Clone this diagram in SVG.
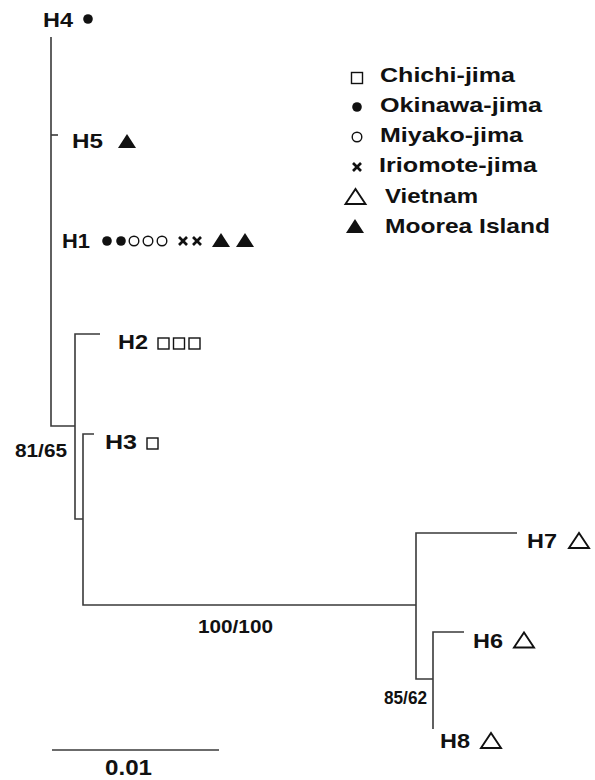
<svg xmlns="http://www.w3.org/2000/svg" xmlns:xlink="http://www.w3.org/1999/xlink" width="595" height="780" viewBox="0 0 595 780">
<style>
.t{font-family:"Liberation Sans",Arial,sans-serif;font-weight:bold;fill:#111;}
.lab{font-size:20px;}
.leg{font-size:21px;}
.num{font-size:18px;}
.br{stroke:#3a3a3a;stroke-width:1.6;fill:none;}
.fill{fill:#111;}
.open{fill:none;stroke:#111;stroke-width:1.4;}
.ox{stroke:#111;stroke-width:2.6;}
</style>
<defs>
<circle id="dot" r="4.8" class="fill"/>
<circle id="ring" r="4.8" class="open"/>
<rect id="sq" x="-5.5" y="-5.5" width="11" height="11" class="open"/>
<g id="cross" class="ox"><line x1="-4" y1="-4" x2="4" y2="4"/><line x1="-4" y1="4" x2="4" y2="-4"/></g>
<polygon id="tri" points="-9,7 9,7 0,-7" class="fill"/>
<polygon id="otri" points="-10,7.5 10,7.5 0,-7.5" fill="none" stroke="#111" stroke-width="1.9"/>
</defs>
<rect width="595" height="780" fill="#fff"/>

<g id="connectors">
<path class="br" d="M51,37 V426 H75"/>
<path class="br" d="M51,135 H58"/>
<path class="br" d="M100,334 H75 V519 H83"/>
<path class="br" d="M94,434 H83 V605 H416"/>
<path class="br" d="M517,533 H416 V679 H433"/>
<path class="br" d="M464,632 H433 V729"/>
<path class="br" d="M52,750 H219"/>
</g>

<g id="H4"><text class="t lab" x="43" y="27" textLength="30" lengthAdjust="spacingAndGlyphs">H4</text><use xlink:href="#dot" x="88" y="19"/></g>
<g id="H5"><text class="t lab" x="72" y="148" textLength="31" lengthAdjust="spacingAndGlyphs">H5</text><use xlink:href="#tri" x="127" y="141"/></g>
<g id="H1"><text class="t lab" x="62" y="248" textLength="28" lengthAdjust="spacingAndGlyphs">H1</text>
<use xlink:href="#dot" x="107" y="241"/><use xlink:href="#dot" x="121" y="241"/>
<use xlink:href="#ring" x="134" y="241"/><use xlink:href="#ring" x="148" y="241"/><use xlink:href="#ring" x="162" y="241"/>
<use xlink:href="#cross" x="183" y="241"/><use xlink:href="#cross" x="197" y="241"/>
<use xlink:href="#tri" x="221" y="240"/><use xlink:href="#tri" x="245" y="240"/></g>
<g id="H2"><text class="t lab" x="118" y="349" textLength="30" lengthAdjust="spacingAndGlyphs">H2</text>
<use xlink:href="#sq" x="163.5" y="343.5"/><use xlink:href="#sq" x="179" y="343.5"/><use xlink:href="#sq" x="194.5" y="343.5"/></g>
<g id="H3"><text class="t lab" x="105" y="449" textLength="32" lengthAdjust="spacingAndGlyphs">H3</text><use xlink:href="#sq" x="152.5" y="443.5"/></g>
<g id="H7"><text class="t lab" x="527" y="548" textLength="30" lengthAdjust="spacingAndGlyphs">H7</text><use xlink:href="#otri" x="579" y="540.5"/></g>
<g id="H6"><text class="t lab" x="473" y="648" textLength="30" lengthAdjust="spacingAndGlyphs">H6</text><use xlink:href="#otri" x="524" y="640"/></g>
<g id="H8"><text class="t lab" x="440" y="748" textLength="30" lengthAdjust="spacingAndGlyphs">H8</text><use xlink:href="#otri" x="491" y="740.5"/></g>

<g id="support">
<text class="t num" x="15" y="457" textLength="52" lengthAdjust="spacingAndGlyphs">81/65</text>
<text class="t num" x="198" y="633" textLength="75" lengthAdjust="spacingAndGlyphs">100/100</text>
<text class="t num" x="384" y="704" textLength="43" lengthAdjust="spacingAndGlyphs">85/62</text>
<text class="t" style="font-size:22px" x="105" y="775" textLength="47" lengthAdjust="spacingAndGlyphs">0.01</text>
</g>

<g id="legend">
<use xlink:href="#sq" x="357" y="78"/><text class="t leg" x="380" y="82" textLength="135" lengthAdjust="spacingAndGlyphs">Chichi-jima</text>
<use xlink:href="#dot" x="357" y="107"/><text class="t leg" x="380" y="112" textLength="162" lengthAdjust="spacingAndGlyphs">Okinawa-jima</text>
<use xlink:href="#ring" x="357" y="137"/><text class="t leg" x="380" y="142" textLength="143" lengthAdjust="spacingAndGlyphs">Miyako-jima</text>
<use xlink:href="#cross" x="357" y="167"/><text class="t leg" x="379" y="172" textLength="158" lengthAdjust="spacingAndGlyphs">Iriomote-jima</text>
<use xlink:href="#otri" x="355.5" y="196.5"/><text class="t leg" x="385" y="203" textLength="93" lengthAdjust="spacingAndGlyphs">Vietnam</text>
<use xlink:href="#tri" x="355" y="226"/><text class="t leg" x="385" y="233" textLength="165" lengthAdjust="spacingAndGlyphs">Moorea Island</text>
</g>
</svg>
